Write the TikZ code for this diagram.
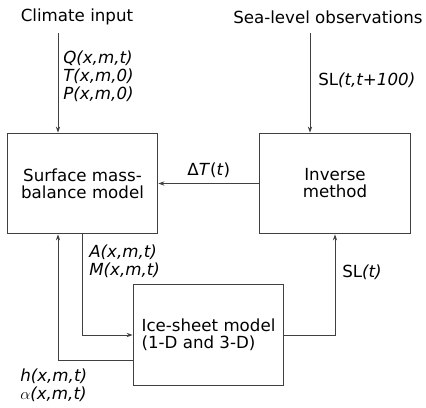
\documentclass[tikz,border=0pt]{standalone}
\usepackage{fontspec}
\setmainfont{DejaVu Sans}
\usetikzlibrary{arrows.meta}
\begin{document}
\begin{tikzpicture}[x=0.75pt,y=-0.75pt,
    font=\fontsize{12.5pt}{13.5pt}\selectfont,
    box/.style={draw=black!75,line width=0.8pt,minimum width=113pt,minimum height=75.5pt,inner sep=0pt,font=\fontsize{12.5pt}{12.8pt}\selectfont},
    flow/.style={draw=black!75,line width=0.6pt,-{Stealth[length=4.5pt,width=3.2pt]}},
    lbl/.style={align=left,inner sep=0pt,anchor=west,font=\fontsize{12.5pt}{13.5pt}\selectfont\itshape}]
  \useasboundingbox (0,0) rectangle (426,408);
  \node (climate) at (77,17) {Climate input};
  \node[anchor=west,inner sep=0pt] (sealevel) at (233,17) {Sea-level observations};
  \node[box,align=center] (smb) at (82.5,183.5) {Surface mass-\\balance model};
  \node[box,align=center] (inverse) at (335,183.5) {Inverse\\method};
  \node[box,align=left] (icesheet) at (208.5,335) {Ice-sheet model\\(1-D and 3-D)};
  \coordinate (climtail) at (58,33);
  \coordinate (seatail) at (310,33);
  \draw[flow] (climtail) -- (climtail |- smb.north);
  \draw[flow] (seatail) -- (seatail |- inverse.north);
  \draw[flow] (inverse.west) -- (smb.east) node[midway, above, yshift=1pt] {{\upshape\char"0394}\textit{T}(\textit{t})};
  \draw[flow] (smb.south) |- (icesheet.west);
  \draw[flow] ([yshift=-18.75pt]icesheet.west) -| (climtail |- smb.south);
  \draw[flow] (icesheet.east) -| (inverse.south);
  \node[lbl] (climvars) at (63,76) {Q(x,m,t)\\T(x,m,0)\\P(x,m,0)};
  \node[lbl] (slobs) at (318,80) {{\upshape SL}(t,t+100)};
  \node[lbl] (accmelt) at (89,261) {A(x,m,t)\\M(x,m,t)};
  \node[lbl] (heights) at (20,385) {h(x,m,t)\\$\alpha$(x,m,t)};
  \node[lbl] (slmodel) at (342,272) {{\upshape SL}(t)};
\end{tikzpicture}
\end{document}
